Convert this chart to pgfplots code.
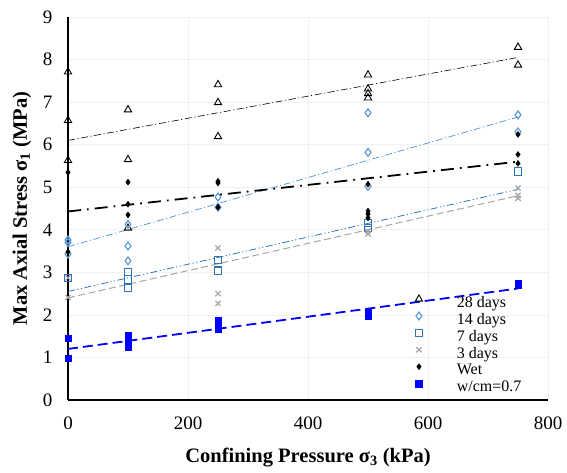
\documentclass[border=0pt]{standalone}
\usepackage{pgfplots}
\pgfplotsset{compat=1.18}
\usetikzlibrary{calc}
\usepackage{fontspec}
\setmainfont{Liberation Serif}
\definecolor{lblue}{HTML}{5B9BD5}
\definecolor{sblue}{HTML}{2E75B6}
\definecolor{pblue}{HTML}{0000FF}
\definecolor{gr}{HTML}{A5A5A5}
\newcommand{\legtxt}[1]{\hspace*{33pt}#1}
\begin{document}
\begin{tikzpicture}
\begin{axis}[
  name=ax,
  width=480pt, height=383pt, scale only axis,
  xmin=0, xmax=800, ymin=0, ymax=9,
  xtick={0,200,...,800}, ytick={0,1,...,9},
  axis x line*=bottom, axis y line*=left,
  axis line style={line width=2.4pt, black},
  x axis line style={-}, y axis line style={-},
  grid=major, major grid style={gray!12, line width=0.6pt},
  tick style={draw=none},
  /pgf/number format/assume math mode=true,
  ticklabel style={font=\fontsize{19}{19}\selectfont},
  yticklabel style={xshift=-12pt},
  xticklabel style={yshift=-13pt},
  xlabel={\textbf{Confining Pressure σ\textsubscript{3} (kPa)}},
  ylabel={\textbf{Max Axial Stress σ\textsubscript{1} (MPa)}},
  label style={font=\fontsize{20.5}{20.5}\selectfont},
  xlabel style={at={(axis description cs:0.5,-0.151)}, anchor=center},
  ylabel style={at={(axis description cs:-0.096,0.5)}, anchor=center},
  legend style={draw=none, fill=none, at={(0.723,0.275)}, anchor=north west,
    font=\fontsize{16}{16}\selectfont, row sep=0pt, inner sep=0pt,
    nodes={text height=11pt, text depth=3.5pt, inner sep=1.2pt}},
  legend image post style={yshift=4.5pt},
  legend cell align=left,
  clip=false,
]
% fit lines
\addplot[forget plot, black, line width=0.6pt, dash pattern=on 7pt off 2.5pt on 1.2pt off 2.5pt] coordinates {(0,6.1) (750,8.05)};
\addplot[forget plot, lblue, line width=0.8pt, dash pattern=on 7pt off 2.5pt on 1.2pt off 2.5pt] coordinates {(0,3.6) (750,6.65)};
\addplot[forget plot, black, line width=1.8pt, dash pattern=on 13pt off 6pt on 1.8pt off 6pt] coordinates {(0,4.43) (750,5.6)};
\addplot[forget plot, sblue, line width=0.8pt, dash pattern=on 7pt off 2.5pt on 1.2pt off 2.5pt on 1.2pt off 2.5pt] coordinates {(0,2.55) (750,4.95)};
\addplot[forget plot, gr, line width=1pt, dash pattern=on 7pt off 3.5pt] coordinates {(0,2.4) (750,4.8)};
\addplot[forget plot, pblue, line width=1.8pt, dash pattern=on 10pt off 5pt] coordinates {(0,1.2) (750,2.62)};
% data
\addplot[only marks, mark=triangle, mark size=4.2pt, black, mark options={line width=0.9pt}] coordinates {
(0,7.71) (0,6.57) (0,5.63) (100,6.82) (100,5.65) (100,4.04)
(250,7.41) (250,6.99) (250,6.19)
(500,7.64) (500,7.31) (500,7.2) (500,7.1)
(750,8.29) (750,7.87)};
\addlegendentry{\legtxt{28 days}}
\addplot[only marks, mark=diamond, mark size=3.9pt, lblue, mark options={line width=1.2pt}] coordinates {
(0,3.76) (0,3.7) (0,3.43) (100,4.13) (100,3.62) (100,3.27)
(250,4.77) (250,4.53) (500,6.75) (500,5.82) (500,5.02)
(750,6.7) (750,6.3)};
\addlegendentry{\legtxt{14 days}}
\addplot[only marks, mark=square, mark size=3.7pt, sblue, mark options={line width=1.2pt}] coordinates {
(0,2.87) (100,3.01) (100,2.83) (100,2.64) (250,3.29) (250,3.04)
(500,4.16) (500,4.04) (750,5.37)};
\addlegendentry{\legtxt{7 days}}
\addplot[only marks, mark=x, mark size=3.7pt, gr, mark options={line width=1.2pt}] coordinates {
(0,2.87) (0,2.41) (250,3.57) (250,2.5) (250,2.27)
(500,3.97) (500,3.9) (750,4.98) (750,4.81) (750,4.74)};
\addlegendentry{\legtxt{3 days}}
\addplot[only marks, mark=diamond*, mark size=3pt, black] coordinates {
(0,5.35) (0,3.48) (100,5.12) (100,4.6) (100,4.35)
(250,5.14) (250,5.1) (250,4.53)
(500,5.07) (500,4.44) (500,4.37) (500,4.28)
(750,6.24) (750,5.77) (750,5.56)};
\addlegendentry{\legtxt{Wet}}
\addplot[only marks, mark=square*, mark size=3.3pt, pblue] coordinates {
(0,1.45) (0,0.98) (100,1.52) (100,1.4) (100,1.24)
(250,1.87) (250,1.68) (500,2.06) (500,1.98) (750,2.73) (750,2.7)};
\addlegendentry{\legtxt{w/cm=0.7}}
\end{axis}
\pgfresetboundingbox
\path ($(ax.south west)+(-68pt,-72pt)$) rectangle ($(ax.north east)+(19pt,17pt)$);
\end{tikzpicture}
\end{document}
